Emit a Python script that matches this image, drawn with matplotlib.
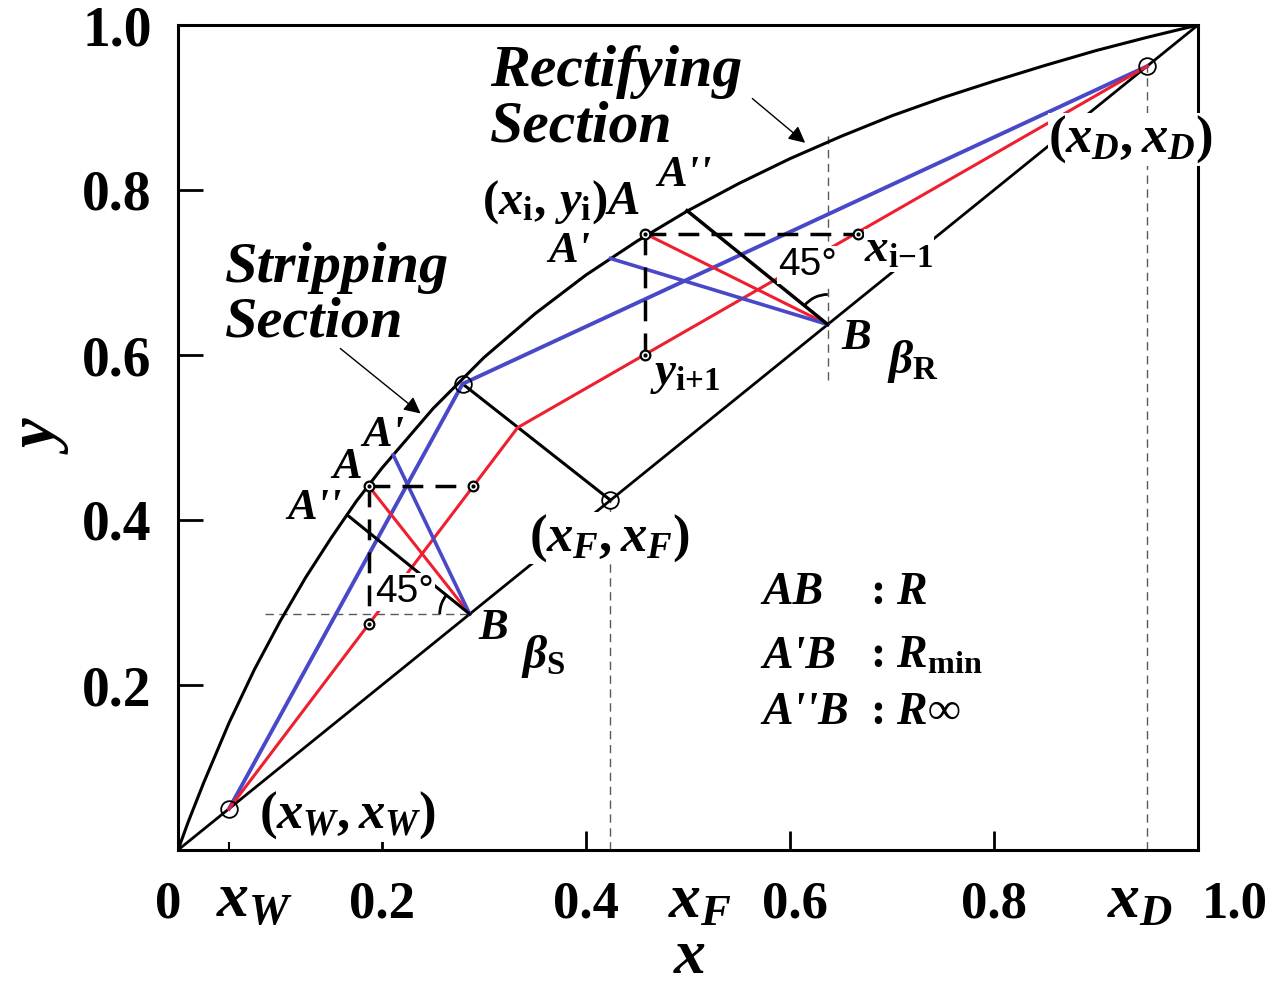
import matplotlib
matplotlib.use('Agg')
import matplotlib.pyplot as plt
from matplotlib.patches import Arc

plt.rcParams['font.family'] = ['Liberation Serif', 'DejaVu Serif']
plt.rcParams['mathtext.fontset'] = 'custom'
plt.rcParams['mathtext.it'] = 'Liberation Serif:italic:bold'
plt.rcParams['mathtext.rm'] = 'Liberation Serif:bold'
plt.rcParams['mathtext.bf'] = 'Liberation Serif:bold'

# equilibrium curve
eq_x = [0, 0.01, 0.025, 0.05, 0.075, 0.1, 0.125, 0.15, 0.175, 0.2, 0.25, 0.3, 0.35,
        0.4, 0.45, 0.5, 0.55, 0.6, 0.65, 0.7, 0.75, 0.8, 0.85, 0.9, 0.95, 1.0]
eq_y = [0, 0.034, 0.081, 0.154, 0.219, 0.277, 0.330, 0.378, 0.423, 0.463, 0.535, 0.597, 0.650,
        0.697, 0.738, 0.775, 0.808, 0.838, 0.865, 0.890, 0.912, 0.932, 0.951, 0.969, 0.985, 1.0]

# compositions
xW, xF, xD = 0.05, 0.424, 0.95
pinch = (0.279, 0.565)        # q-line meets equilibrium curve
op_cross = (0.333, 0.512)     # operating lines meet

# rectifying section construction
A_R = (0.458, 0.747)
A1_R = (0.424, 0.717)
A2_R = (0.499, 0.775)
B_R = 0.637
x_im1 = 0.667
y_ip1 = 0.600

# stripping section construction
A_S = (0.187, 0.441)
A1_S = (0.211, 0.479)
A2_S = (0.166, 0.406)
B_S = 0.286
x_s = 0.289
y_s = 0.274

RED = '#ee2030'
BLUE = '#4848c8'
GRAY = '0.35'

fig = plt.figure(figsize=(12.72, 9.86), dpi=100)
ax = fig.add_axes([178 / 1272, 136 / 986, 1020 / 1272, 825 / 986])
ax.set_xlim(0, 1)
ax.set_ylim(0, 1)
for s in ax.spines.values():
    s.set_linewidth(2.2)

# ticks
ax.set_xticks([0.2, 0.4, 0.6, 0.8])
ax.set_xticklabels([])
ax.set_xticks([xW], minor=True)
ax.tick_params(axis='x', which='major', direction='in', length=14, width=2)
ax.tick_params(axis='x', which='minor', direction='in', length=6, width=1.5)
ax.set_yticks([0.2, 0.4, 0.6, 0.8, 1.0])
ax.set_yticklabels(['0.2', '0.4', '0.6', '0.8', '1.0'], fontsize=40, fontweight='bold')
ax.tick_params(axis='y', direction='in', length=18, width=2, pad=19)

xlab_text = ['0', '$x_W$', '0.2', '0.4', '$x_F$', '0.6', '0.8', '$x_D$', '1.0']
xlab_pos = [-0.01, 0.075, 0.2, 0.4, 0.512, 0.605, 0.8, 0.943, 1.036]
for t, p in zip(xlab_text, xlab_pos):
    fs = 46 if t.startswith('$') else 38
    ax.text(p, -0.082, t, fontsize=fs, fontweight='bold', ha='center', va='baseline',
            clip_on=False)

ax.text(0.502, -0.131, '$x$', transform=ax.transAxes, fontsize=46, ha='center', va='center')
ax.text(-0.135, 0.503, '$y$', transform=ax.transAxes, fontsize=48, ha='center', va='center',
        rotation=90)

# main lines
ax.plot(eq_x, eq_y, color='k', lw=2.2, zorder=3)
ax.plot([0, 1], [0, 1], color='k', lw=2.0, zorder=2)
ax.plot([xF, pinch[0]], [xF, pinch[1]], color='k', lw=2.2, zorder=2)
ax.plot([xW, pinch[0], xD], [xW, pinch[1], xD], color=BLUE, lw=2.8, zorder=3)
ax.plot([xW, op_cross[0], xD], [xW, op_cross[1], xD], color=RED, lw=2.2, zorder=3)

# thin guide lines
gd = dict(color=GRAY, lw=1, ls=(0, (6, 4)), zorder=1)
ax.plot([xF, xF], [0, xF], **gd)
ax.plot([xD, xD], [0, xD], **gd)
ax.plot([B_R, B_R], [0.57, 0.865], **gd)
ax.plot([0.085, B_S], [B_S, B_S], **gd)

# rectifying construction
ax.plot([A_R[0], B_R], [A_R[1], B_R], color=RED, lw=2.2, zorder=3)
ax.plot([A1_R[0], B_R], [A1_R[1], B_R], color=BLUE, lw=2.6, zorder=3)
ax.plot([A2_R[0], B_R], [A2_R[1], B_R], color='k', lw=2.5, zorder=3)
ax.plot([A_R[0], x_im1], [A_R[1], A_R[1]], color='k', lw=2.5, dashes=(6, 3.5), zorder=4)
ax.plot([A_R[0], A_R[0]], [A_R[1], y_ip1], color='k', lw=2.5, dashes=(6, 3.5), zorder=4)

# stripping construction
ax.plot([A_S[0], B_S], [A_S[1], B_S], color=RED, lw=2.2, zorder=3)
ax.plot([A1_S[0], B_S], [A1_S[1], B_S], color=BLUE, lw=2.6, zorder=3)
ax.plot([A2_S[0], B_S], [A2_S[1], B_S], color='k', lw=2.2, zorder=3)
ax.plot([A_S[0], x_s], [A_S[1], A_S[1]], color='k', lw=2.5, dashes=(6, 3.5), zorder=4)
ax.plot([A_S[0], A_S[0]], [A_S[1], y_s], color='k', lw=2.5, dashes=(6, 3.5), zorder=4)

# 45 degree arcs
r = 30
ax.add_patch(Arc((B_R, B_R), 2 * r / 1020, 2 * r / 825, theta1=90, theta2=135, color='k', lw=2, zorder=4))
ax.add_patch(Arc((B_S, B_S), 2 * r / 1020, 2 * r / 825, theta1=135, theta2=180, color='k', lw=2, zorder=4))

# markers
ax.plot([xW, pinch[0], xF, xD], [xW, pinch[1], xF, xD], 'o', ms=12, mfc='none', mec='k',
        mew=1.3, zorder=6)
sx = [A_R[0], x_im1, A_R[0], A_S[0], x_s, A_S[0]]
sy = [A_R[1], A_R[1], y_ip1, A_S[1], A_S[1], y_s]
ax.plot(sx, sy, 'o', ms=7, mfc='white', mec='k', mew=1.6, zorder=7)
ax.plot(sx, sy, 'o', ms=2, color='k', zorder=8)

# arrows
ax.annotate('', xy=(0.617, 0.855), xytext=(0.561, 0.913),
            arrowprops=dict(arrowstyle='-|>', color='k', lw=1, mutation_scale=25))
ax.annotate('', xy=(0.240, 0.527), xytext=(0.157, 0.610),
            arrowprops=dict(arrowstyle='-|>', color='k', lw=1, mutation_scale=25))

wb = dict(fc='white', ec='none', pad=0.5)
ax.text(0.306, 0.943, 'Rectifying', ha='left', va='center', fontsize=43, fontweight='bold',
        fontstyle='italic')
ax.text(0.306, 0.876, 'Section', ha='left', va='center', fontsize=43, fontweight='bold',
        fontstyle='italic')
ax.text(0.046, 0.705, 'Stripping', ha='left', va='center', fontsize=42, fontweight='bold',
        fontstyle='italic')
ax.text(0.046, 0.639, 'Section', ha='left', va='center', fontsize=42, fontweight='bold',
        fontstyle='italic')

lab = dict(fontsize=32, fontweight='bold', fontstyle='italic', ha='center', va='center',
           zorder=9)
ax.text(0.453, 0.785, r'$(x_{\mathrm{i}},\,y_{\mathrm{i}})A$', fontsize=35, ha='right',
        va='center', zorder=9)
ax.text(0.497, 0.818, "A''", **lab)
ax.text(0.384, 0.726, "A'", **lab)
ax.text(0.673, 0.727, r'$x_{\mathrm{i{-}1}}$', fontsize=34, ha='left', va='center', bbox=wb,
        zorder=9)
ax.text(0.617, 0.709, '45°', fontsize=28, family='Liberation Sans', ha='center', va='center',
        bbox=wb, zorder=9)
ax.text(0.665, 0.621, 'B', **lab)
ax.text(0.720, 0.592, r'$\beta_{\mathrm{R}}$', fontsize=34, ha='center', va='center', zorder=9)
ax.text(0.497, 0.576, r'$y_{\mathrm{i{+}1}}$', fontsize=34, ha='center', va='center', zorder=9)

ax.text(0.201, 0.503, "A'", **lab)
ax.text(0.166, 0.464, 'A', **lab)
ax.text(0.134, 0.415, "A''", **lab)
ax.text(0.222, 0.313, '45°', fontsize=28, family='Liberation Sans', ha='center', va='center',
        bbox=wb, zorder=9)
ax.text(0.309, 0.269, 'B', **lab)
ax.text(0.358, 0.234, r'$\beta_{\mathrm{S}}$', fontsize=34, ha='center', va='center', zorder=9)

pt = dict(fontsize=38, ha='center', va='center', bbox=wb, zorder=9)
ax.text(0.423, 0.378, '$(x_F,x_F)$', **pt)
ax.text(0.934, 0.861, '$(x_D,x_D)$', **pt)
ax.text(0.166, 0.042, '$(x_W,x_W)$', **pt)

# legend-like notes
leg_left = ['AB', "A'B", "A''B"]
leg_right = [': $R$', r': $R_{\mathrm{min}}$', ': $R$∞']
leg_y = [0.312, 0.234, 0.166]
for a, b, yy in zip(leg_left, leg_right, leg_y):
    ax.text(0.573, yy, a, fontsize=33, fontweight='bold', fontstyle='italic', ha='left', va='center')
    ax.text(0.678, yy, b, fontsize=33, fontweight='bold', ha='left', va='center')

fig.savefig('out.png', dpi=100)
